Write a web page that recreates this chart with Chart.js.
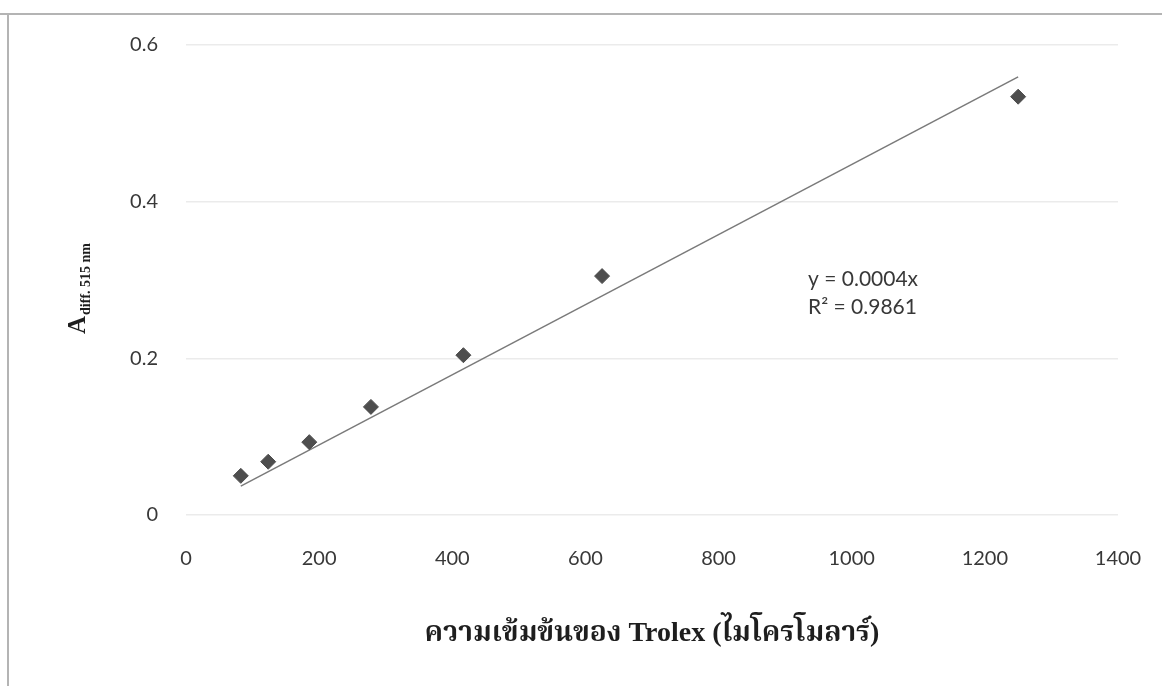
<!DOCTYPE html>
<html>
<head>
<meta charset="utf-8">
<script src="https://cdn.jsdelivr.net/npm/chart.js@4.4.1/dist/chart.umd.min.js"></script>
<style>
  html, body { margin: 0; padding: 0; background: #ffffff; }
  #wrap { position: relative; width: 1162px; height: 686px; }
</style>
</head>
<body>
<div id="wrap"><canvas id="chart" width="1162" height="686"></canvas></div>
<script>
// Trolex standard curve: concentration (µM) vs absorbance difference at 515 nm
const concentrations = [82.3, 123.5, 185.2, 277.8, 416.7, 625, 1250];
const absorbance = [0.050, 0.068, 0.093, 0.138, 0.204, 0.305, 0.534];
const xTicks = [0, 200, 400, 600, 800, 1000, 1200, 1400];
const yTicks = [0, 0.2, 0.4, 0.6];
const equationText = 'y = 0.0004x';
const rSquaredText = 'R\u00B2 = 0.9861';
const xTitle = 'ความเข้มข้นของ Trolex (ไมโครโมลาร์)';
const yTitleMain = 'A';
const yTitleSub = 'diff. 515 nm';

// Linear trend line forced through the origin (least squares)
let sxy = 0, sxx = 0;
concentrations.forEach((x, i) => { sxy += x * absorbance[i]; sxx += x * x; });
const slope = sxy / sxx;
const xMin = Math.min(...concentrations);
const xMax = Math.max(...concentrations);

const points = concentrations.map((x, i) => ({ x, y: absorbance[i] }));
const trend = [xMin, xMax].map(x => ({ x, y: slope * x }));

const textColor = '#383838';
const tickFont = { family: 'Lato, "Open Sans", sans-serif', size: 20 };

const decorations = {
  id: 'decorations',
  beforeDraw(chart) {
    const ctx = chart.ctx;
    ctx.save();
    ctx.fillStyle = '#ffffff';
    ctx.fillRect(0, 0, chart.width, chart.height);
    // frame around the chart
    ctx.strokeStyle = '#b4b4b4';
    ctx.lineWidth = 2;
    ctx.beginPath();
    ctx.moveTo(0, 14);
    ctx.lineTo(chart.width, 14);
    ctx.moveTo(8, 14);
    ctx.lineTo(8, chart.height);
    ctx.stroke();
    ctx.restore();
  },
  afterDraw(chart) {
    const ctx = chart.ctx;
    const area = chart.chartArea;
    ctx.save();
    ctx.fillStyle = textColor;

    // trend line equation
    ctx.font = '21px Lato, "Open Sans", sans-serif';
    ctx.textAlign = 'left';
    ctx.textBaseline = 'alphabetic';
    ctx.fillText(equationText, 808, 286);
    ctx.fillText(rSquaredText, 808, 314);

    // x axis title
    ctx.fillStyle = '#1e1e1e';
    ctx.font = 'bold 28px "Liberation Serif", "Noto Serif Thai", "Noto Sans Thai", serif';
    ctx.textAlign = 'center';
    ctx.textBaseline = 'middle';
    ctx.fillText(xTitle, 652, 634);

    // y axis title with subscript, rotated
    ctx.translate(85, 334);
    ctx.rotate(-Math.PI / 2);
    ctx.textAlign = 'left';
    ctx.textBaseline = 'alphabetic';
    ctx.font = 'bold 25px "Liberation Serif", serif';
    ctx.fillText(yTitleMain, 0, 0);
    const w = ctx.measureText(yTitleMain).width;
    ctx.font = 'bold 14px "Liberation Serif", serif';
    ctx.fillText(yTitleSub, w + 1, 5);
    ctx.restore();
  }
};

new Chart(document.getElementById('chart'), {
  type: 'scatter',
  data: {
    datasets: [
      {
        label: 'Trolex',
        data: points,
        pointStyle: 'rectRot',
        pointRadius: 7.5,
        pointHoverRadius: 7.5,
        backgroundColor: '#4e4e4e',
        borderColor: '#4e4e4e',
        borderWidth: 1,
        showLine: false,
        order: 1
      },
      {
        label: 'Linear',
        data: trend,
        showLine: true,
        pointRadius: 0,
        borderColor: '#7a7a7a',
        borderWidth: 1.5,
        fill: false,
        order: 2
      }
    ]
  },
  options: {
    responsive: false,
    animation: false,
    layout: { padding: { top: 45, right: 44, bottom: 0, left: 0 } },
    plugins: {
      legend: { display: false },
      tooltip: { enabled: false }
    },
    scales: {
      x: {
        type: 'linear',
        min: xTicks[0],
        max: xTicks[xTicks.length - 1],
        afterBuildTicks(scale) { scale.ticks = xTicks.map(v => ({ value: v })); },
        afterFit(scale) {
          scale.height = 171;
          scale.paddingLeft = 0;
          scale.paddingRight = 0;
        },
        grid: { display: false, drawTicks: false },
        border: { display: false },
        ticks: {
          padding: 32,
          color: textColor,
          font: tickFont,
          maxRotation: 0,
          callback: v => String(v)
        }
      },
      y: {
        type: 'linear',
        min: yTicks[0],
        max: yTicks[yTicks.length - 1],
        afterBuildTicks(scale) { scale.ticks = yTicks.map(v => ({ value: v })); },
        afterFit(scale) {
          scale.width = 186;
          scale.paddingTop = 0;
          scale.paddingBottom = 0;
        },
        grid: { color: '#ebebeb', lineWidth: 1.5, drawTicks: false },
        border: { display: false },
        ticks: {
          padding: 28,
          color: textColor,
          font: tickFont,
          callback: v => (v === 0 ? '0' : v.toFixed(1))
        }
      }
    }
  },
  plugins: [decorations]
});
</script>
</body>
</html>
